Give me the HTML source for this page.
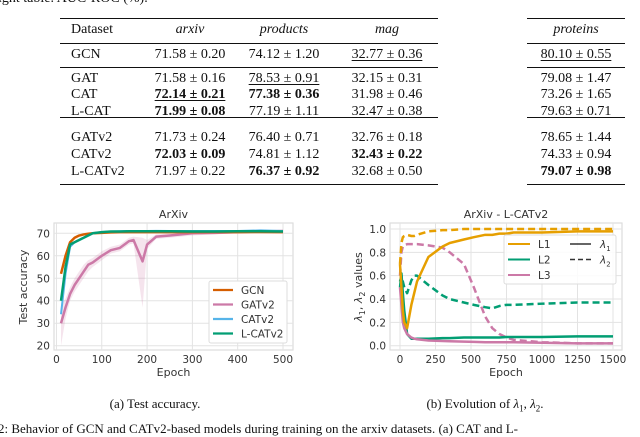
<!DOCTYPE html>
<html><head><meta charset="utf-8">
<style>
body{margin:0;background:#fff;width:640px;height:429px;overflow:hidden;position:relative;font-family:"Liberation Serif",serif;color:#111}
.t{position:absolute;font-size:14px;line-height:16px;white-space:nowrap}
.c{transform:translateX(-50%)}
.rule{position:absolute;background:#111}
svg{position:absolute;left:0;top:0}
svg text{font-family:"DejaVu Sans",sans-serif;fill:#333}
u{text-decoration:underline;text-underline-offset:2px}
</style></head>
<body>
<div class="t" style="left:-2px;top:-9px">ight table. AUC-ROC (%).</div>
<div>
<div class="rule" style="left:60px;top:18px;width:378px;height:1.4px"></div>
<div class="rule" style="left:60px;top:43px;width:378px;height:0.8px"></div>
<div class="rule" style="left:60px;top:67px;width:378px;height:0.8px"></div>
<div class="rule" style="left:60px;top:117px;width:378px;height:0.8px"></div>
<div class="rule" style="left:60px;top:184px;width:378px;height:1.4px"></div>
<div class="rule" style="left:527px;top:18px;width:98px;height:1.4px"></div>
<div class="rule" style="left:527px;top:43px;width:98px;height:0.8px"></div>
<div class="rule" style="left:527px;top:67px;width:98px;height:0.8px"></div>
<div class="rule" style="left:527px;top:117px;width:98px;height:0.8px"></div>
<div class="rule" style="left:527px;top:184px;width:98px;height:1.4px"></div>
<div class="t" style="left:71px;top:22px">Dataset</div>
<div class="t c" style="left:190px;top:22px"><i>arxiv</i></div>
<div class="t c" style="left:284px;top:22px"><i>products</i></div>
<div class="t c" style="left:387px;top:22px"><i>mag</i></div>
<div class="t c" style="left:576px;top:22px"><i>proteins</i></div>
<div class="t" style="left:71px;top:47px">GCN</div>
<div class="t c" style="left:190px;top:47px">71.58 ± 0.20</div>
<div class="t c" style="left:284px;top:47px">74.12 ± 1.20</div>
<div class="t c" style="left:387px;top:47px"><u>32.77 ± 0.36</u></div>
<div class="t c" style="left:576px;top:47px"><u>80.10 ± 0.55</u></div>
<div class="t" style="left:71px;top:71px">GAT</div>
<div class="t c" style="left:190px;top:71px">71.58 ± 0.16</div>
<div class="t c" style="left:284px;top:71px"><u>78.53 ± 0.91</u></div>
<div class="t c" style="left:387px;top:71px">32.15 ± 0.31</div>
<div class="t c" style="left:576px;top:71px">79.08 ± 1.47</div>
<div class="t" style="left:71px;top:87px">CAT</div>
<div class="t c" style="left:190px;top:87px"><b><u>72.14 ± 0.21</u></b></div>
<div class="t c" style="left:284px;top:87px"><b>77.38 ± 0.36</b></div>
<div class="t c" style="left:387px;top:87px">31.98 ± 0.46</div>
<div class="t c" style="left:576px;top:87px">73.26 ± 1.65</div>
<div class="t" style="left:71px;top:104px">L-CAT</div>
<div class="t c" style="left:190px;top:104px"><b>71.99 ± 0.08</b></div>
<div class="t c" style="left:284px;top:104px">77.19 ± 1.11</div>
<div class="t c" style="left:387px;top:104px">32.47 ± 0.38</div>
<div class="t c" style="left:576px;top:104px">79.63 ± 0.71</div>
<div class="t" style="left:71px;top:130px">GATv2</div>
<div class="t c" style="left:190px;top:130px">71.73 ± 0.24</div>
<div class="t c" style="left:284px;top:130px">76.40 ± 0.71</div>
<div class="t c" style="left:387px;top:130px">32.76 ± 0.18</div>
<div class="t c" style="left:576px;top:130px">78.65 ± 1.44</div>
<div class="t" style="left:71px;top:147px">CATv2</div>
<div class="t c" style="left:190px;top:147px"><b>72.03 ± 0.09</b></div>
<div class="t c" style="left:284px;top:147px">74.81 ± 1.12</div>
<div class="t c" style="left:387px;top:147px"><b>32.43 ± 0.22</b></div>
<div class="t c" style="left:576px;top:147px">74.33 ± 0.94</div>
<div class="t" style="left:71px;top:164px">L-CATv2</div>
<div class="t c" style="left:190px;top:164px">71.97 ± 0.22</div>
<div class="t c" style="left:284px;top:164px"><b>76.37 ± 0.92</b></div>
<div class="t c" style="left:387px;top:164px">32.68 ± 0.50</div>
<div class="t c" style="left:576px;top:164px"><b>79.07 ± 0.98</b></div>
</div>
<div class="t c" style="left:155px;top:396px;font-size:13px">(a) Test accuracy.</div>
<div class="t c" style="left:485px;top:396px;font-size:13px">(b) Evolution of <i>λ</i><sub style="font-size:9px">1</sub>, <i>λ</i><sub style="font-size:9px">2</sub>.</div>
<div class="t" style="left:-2px;top:421px;font-size:13px">2: Behavior of GCN and CATv2-based models during training on the arxiv datasets. (a) CAT and L-</div>
<svg id="s" width="640" height="429"></svg>
<script>
// Chart A data
const epA=[10,20,30,40,50,60,70,80,100,120,140,160,170,190,200,220,250,300,350,400,450,500];
const gcn=[52,60,66,68,69,69.5,69.8,70,70.2,70.4,70.5,70.5,70.5,70.5,70.5,70.5,70.6,70.5,70.6,70.5,70.6,70.5];
const gatv2=[30,37,43,47,50,53,56,57,60,62.5,63.5,66.5,67,57.5,65,68.5,69,70,70.2,70.5,70.8,71];
const catv2=[34,52,64,66,67,68,69,70,70.5,70.8,70.9,71,71,71,71,71.1,71,71,71,71,71.3,71];
const lcatv2=[40,55,65,66,67,68,69,70,70.5,70.8,70.8,70.9,70.9,70.9,70.9,70.9,70.9,70.8,70.8,70.9,70.9,70.8];
const gatv2Lo=[20,32,40,44,47,50,53,55,58,61,62,65,65.5,37,63,67.5,68,69,69.5,70,70.3,70.5];
const gatv2Hi=[38,41,46,50,53,56,58,59,62,64,65,68,68.5,68,67,69.5,70,71,71,71,71.3,71.5];
const ticksAx=[0,100,200,300,400,500];
const ticksAy=[20,30,40,50,60,70];
// Chart B data
const epB=[0,10,20,30,50,80,100,120,200,300,350,450,520,600,650,700,750,800,1000,1250,1500];
const l1s=[0.7,0.5,0.3,0.2,0.15,0.35,0.45,0.55,0.76,0.85,0.88,0.91,0.93,0.95,0.95,0.96,0.96,0.97,0.97,0.98,0.98];
const l1d=[0.7,0.88,0.93,0.94,0.95,0.94,0.94,0.95,0.98,0.99,0.99,1,1,1,1,1,1,1,1,1,1];
const l2s=[0.5,0.62,0.45,0.3,0.1,0.06,0.06,0.06,0.06,0.065,0.065,0.07,0.07,0.07,0.07,0.07,0.075,0.075,0.075,0.08,0.08];
const l2d=[0.55,0.6,0.55,0.5,0.45,0.56,0.6,0.6,0.52,0.43,0.4,0.37,0.35,0.33,0.32,0.34,0.35,0.35,0.36,0.37,0.37];
const l3s=[0.5,0.35,0.2,0.15,0.1,0.07,0.06,0.055,0.045,0.04,0.038,0.035,0.033,0.03,0.03,0.03,0.03,0.03,0.025,0.02,0.02];
const l3d=[0.6,0.8,0.85,0.86,0.87,0.87,0.87,0.87,0.86,0.84,0.8,0.7,0.5,0.25,0.15,0.1,0.07,0.05,0.03,0.02,0.02];
const ticksBx=[0,250,500,750,1000,1250,1500];
const ticksBy=[0,0.2,0.4,0.6,0.8,1.0];

const s=document.getElementById('s');const NS='http://www.w3.org/2000/svg';
function mk(t,a,p){const e=document.createElementNS(NS,t);for(const k in a)e.setAttribute(k,a[k]);(p||s).appendChild(e);return e;}
function txt(x,y,str,a,name){const e=mk('text',Object.assign({x:x,y:y,'font-size':11},a||{}));e.textContent=str;


return e;}

function chart(o){
  const X=v=>o.x0+(v-o.vx0)/(o.vx1-o.vx0)*(o.px1-o.x0);
  const Y=v=>o.y0+(v-o.vy0)/(o.vy1-o.vy0)*(o.py1-o.y0);
  const f=mk('rect',{x:o.L,y:o.T,width:o.R-o.L,height:o.B-o.T,fill:'#fff',stroke:'#ddd','stroke-width':1.2});
  
  
  o.tx.forEach(v=>{mk('line',{x1:X(v),x2:X(v),y1:o.T,y2:o.B,stroke:'#e3e3e3'});
    txt(X(v),o.B+13,String(v),{'text-anchor':'middle','font-size':10.5},o.id+'-x-tick');});
  o.ty.forEach(v=>{mk('line',{x1:o.L,x2:o.R,y1:Y(v),y2:Y(v),stroke:'#e3e3e3'});
    txt(o.L-4,Y(v)+4,o.fy(v),{'text-anchor':'end','font-size':10.5},o.id+'-y-tick');});
  txt((o.L+o.R)/2,o.B+26,'Epoch',{'text-anchor':'middle','font-size':11},o.id+'-x-axis-title');
  txt((o.L+o.R)/2,o.T-5,o.title,{'text-anchor':'middle','font-size':11},o.id+'-title');
  return [X,Y];
}
function line(X,Y,xs,ys,col,w,dash,name){const p=mk('polyline',{points:xs.map((x,i)=>X(x)+','+Y(ys[i])).join(' '),fill:'none',stroke:col,'stroke-width':w,'stroke-dasharray':dash||'none','stroke-linejoin':'round'});

}

// Chart A
let [XA,YA]=chart({id:'accuracy',L:54,R:293,T:223,B:350,x0:61,px1:283,vx0:10,vx1:500,y0:233.3,py1:345.7,vy0:70,vy1:20,tx:ticksAx,ty:ticksAy,fy:v=>String(v),title:'ArXiv'});
const band=mk('polygon',{points:epA.map((x,i)=>XA(x)+','+YA(gatv2Hi[i])).concat(epA.slice().reverse().map((x,j)=>XA(x)+','+YA(gatv2Lo[epA.length-1-j]))).join(' '),fill:'#CC79A7','fill-opacity':0.2});


line(XA,YA,epA,gatv2,'#CC79A7',2.5,null,'gatv2-line');
line(XA,YA,epA,gcn,'#D55E00',2.5,null,'gcn-line');
line(XA,YA,epA,catv2,'#56B4E9',2,null,'catv2-line');
line(XA,YA,epA,lcatv2,'#029E73',2.5,null,'lcatv2-line');
const yt=txt(0,0,'Test accuracy',{'text-anchor':'middle',transform:'translate(27,287) rotate(-90)','font-size':11},'accuracy-y-axis-title');
const lgA=mk('rect',{x:209,y:281,width:78,height:62,fill:'#fff',stroke:'#ddd',rx:2});


[['GCN','#D55E00'],['GATv2','#CC79A7'],['CATv2','#56B4E9'],['L-CATv2','#029E73']].forEach((e,i)=>{
  const y=290+i*14.5;mk('line',{x1:213,x2:233,y1:y,y2:y,stroke:e[1],'stroke-width':2.2});
  txt(241,y+4,e[0],{'font-size':10.5},'legend-entry-'+e[0].toLowerCase());});

// Chart B
let [XB,YB]=chart({id:'lambda',L:390,R:622,T:223,B:350,x0:400,px1:613,vx0:0,vx1:1500,y0:229,py1:345.7,vy0:1,vy1:0,tx:ticksBx,ty:ticksBy,fy:v=>v.toFixed(1),title:'ArXiv - L-CATv2'});
line(XB,YB,epB,l2d,'#029E73',2.5,'7,4','l2-lambda2-line');
line(XB,YB,epB,l3d,'#CC79A7',2.5,'7,4','l3-lambda2-line');
line(XB,YB,epB,l1d,'#E69F00',2.5,'7,4','l1-lambda2-line');
line(XB,YB,epB,l2s,'#029E73',2.5,null,'l2-lambda1-line');
line(XB,YB,epB,l3s,'#CC79A7',2.5,null,'l3-lambda1-line');
line(XB,YB,epB,l1s,'#E69F00',2.5,null,'l1-lambda1-line');
const yb=mk('text',{'text-anchor':'middle',transform:'translate(362,287) rotate(-90)','font-size':11});
yb.innerHTML='<tspan font-style="italic">λ</tspan><tspan font-size="8" dy="3">1</tspan><tspan dy="-3">, </tspan><tspan font-style="italic">λ</tspan><tspan font-size="8" dy="3">2</tspan><tspan dy="-3"> values</tspan>';


const lgB=mk('rect',{x:504,y:235,width:112,height:49,fill:'#fff','fill-opacity':0.85,stroke:'#ddd',rx:2});


[['L1','#E69F00'],['L2','#029E73'],['L3','#CC79A7']].forEach((e,i)=>{
  const y=244+i*15.5;mk('line',{x1:508,x2:530,y1:y,y2:y,stroke:e[1],'stroke-width':2});
  txt(538,y+4,e[0],{'font-size':10.5},'legend-entry-'+e[0].toLowerCase());});
mk('line',{x1:570,x2:591,y1:244,y2:244,stroke:'#333','stroke-width':1.5});
mk('line',{x1:570,x2:591,y1:259.5,y2:259.5,stroke:'#333','stroke-width':1.5,'stroke-dasharray':'5,3'});
const l1=txt(600,248,'',{'font-size':10.5},'legend-entry-lambda1');l1.innerHTML='<tspan font-style="italic">λ</tspan><tspan font-size="7" dy="3">1</tspan>';
const l2=txt(600,263.5,'',{'font-size':10.5},'legend-entry-lambda2');l2.innerHTML='<tspan font-style="italic">λ</tspan><tspan font-size="7" dy="3">2</tspan>';
</script>
</body></html>
